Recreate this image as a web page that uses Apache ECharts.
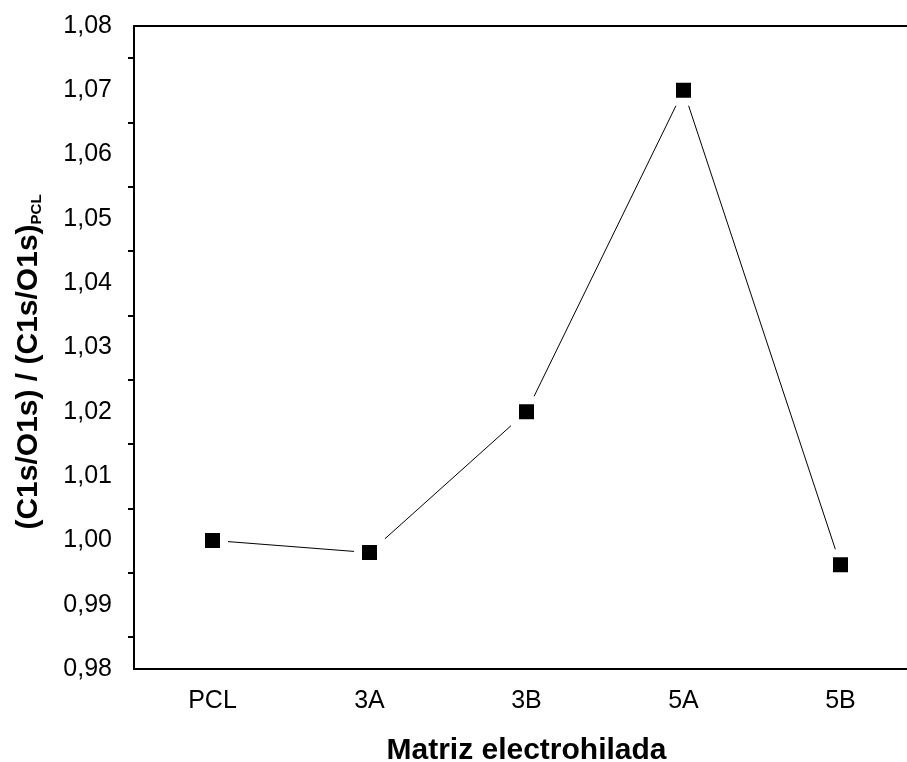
<!DOCTYPE html>
<html>
<head>
    <meta charset="utf-8">
    <title>Matriz electrohilada</title>
    <script src="https://cdn.jsdelivr.net/npm/echarts@6/dist/echarts.min.js"></script>
    <style>
        *{
            margin: 0;
            padding: 0;
        }
        html,body{
            width: 100%;
            height: 100%;
            overflow: hidden;
            background: #fff;
        }
        .container{
            width: 907px;
            height: 762px;
        }
    </style>
</head>
<body>
<div class="container"></div>

<script>
    // datos
    let categories = ['PCL', '3A', '3B', '5A', '5B'];
    let ratios = [1.000, 0.9981, 1.020, 1.070, 0.9962];
    let yTicks = {min: 0.98, max: 1.08, step: 0.01};

    let font = '"Liberation Sans", Arial, sans-serif';
    let black = '#000';

    let chart = echarts.init(document.getElementsByClassName('container')[0]);

    let option = {
        backgroundColor: '#fff',
        animation: false,
        grid: {
            left: 134,
            top: 26,
            bottom: 93,
            right: -12,
            outerBoundsMode: 'none',
            containLabel: false
        },
        xAxis: [
            {
                type: 'category',
                data: categories,
                position: 'bottom',
                boundaryGap: true,
                axisLine: {lineStyle: {color: black, width: 2}},
                axisTick: {alignWithLabel: true, length: 12, lineStyle: {color: black, width: 2}},
                axisLabel: {color: black, fontSize: 25, fontFamily: font, margin: 20},
                splitLine: {show: false},
                name: 'Matriz electrohilada',
                nameLocation: 'middle',
                nameGap: 67,
                nameTextStyle: {color: black, fontSize: 30, fontWeight: 'bold', fontFamily: font}
            },
            {
                // ticks cortos entre categorias
                type: 'category',
                data: categories,
                position: 'bottom',
                boundaryGap: true,
                axisLine: {show: false},
                axisTick: {length: 6, lineStyle: {color: black, width: 2}},
                axisLabel: {show: false},
                splitLine: {show: false}
            },
            {
                type: 'category',
                data: categories,
                position: 'top',
                boundaryGap: true,
                axisLine: {lineStyle: {color: black, width: 2}},
                axisTick: {show: false},
                axisLabel: {show: false},
                splitLine: {show: false}
            }
        ],
        yAxis: {
            type: 'value',
            min: yTicks.min,
            max: yTicks.max,
            interval: yTicks.step,
            axisLine: {show: true, lineStyle: {color: black, width: 2}},
            axisTick: {length: 12, lineStyle: {color: black, width: 2}},
            minorTick: {show: true, splitNumber: 2, length: 6, lineStyle: {color: black, width: 2}},
            splitLine: {show: false},
            axisLabel: {
                color: black,
                fontSize: 25,
                fontFamily: font,
                margin: 22,
                formatter: v => v.toFixed(2).replace('.', ',')
            },
            name: '{m|(C1s/O1s) / (C1s/O1s)}{s|PCL}',
            nameLocation: 'middle',
            nameGap: 90,
            nameTextStyle: {
                color: black,
                fontFamily: font,
                fontWeight: 'bold',
                padding: [0, 29, 0, 0],
                rich: {
                    m: {fontSize: 30, fontWeight: 'bold', fontFamily: font, color: black},
                    s: {fontSize: 15, fontWeight: 'bold', fontFamily: font, color: black, padding: [16, 0, 0, 0]}
                }
            }
        },
        series: [{
            type: 'line',
            data: ratios,
            xAxisIndex: 0,
            symbol: 'rect',
            symbolSize: 23,
            lineStyle: {color: black, width: 1},
            itemStyle: {color: black, borderColor: '#fff', borderWidth: 8, opacity: 1}
        }]
    };
    chart.setOption(option);
</script>
</body>
</html>
